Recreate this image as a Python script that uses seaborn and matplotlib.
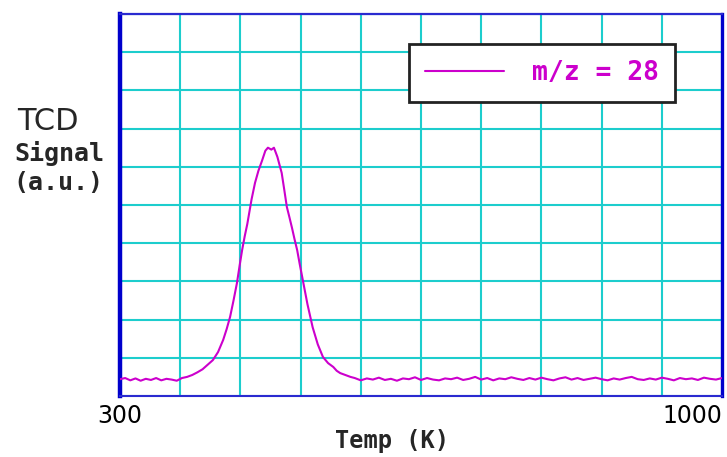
import matplotlib
matplotlib.use("Agg")
import matplotlib.pyplot as plt
import seaborn as sns
import pandas as pd
from matplotlib.lines import Line2D

# ---- data -------------------------------------------------------------
temp_K = [
    300, 306, 312, 318, 324, 330, 336, 342, 348, 354, 360, 366, 372,
    378, 384, 390, 396, 402, 408, 414, 420, 424, 428, 432, 436, 439, 442,
    445, 448, 453, 457, 461, 465, 469, 472, 476, 479, 483,
    488, 491, 494, 497, 500, 503, 506, 509, 512, 518, 524, 530,
    536, 542, 548, 552, 556, 562, 568, 573,
    580, 587, 594, 601, 608, 615, 622, 629, 636, 643, 650, 657, 664, 671,
    678, 685, 692, 699, 706, 713, 720, 727, 734, 741, 748, 755, 762, 769,
    776, 783, 790, 797, 804, 811, 818, 825, 832, 839, 846, 853, 860, 867,
    874, 881, 888, 895, 902, 909, 916, 923, 930, 937, 944, 951, 958, 965,
    972, 979, 986, 993, 1000,
]
signal_mz28 = [
    0.44, 0.47, 0.41, 0.46, 0.40, 0.45, 0.42, 0.47, 0.41, 0.45, 0.43, 0.40, 0.47,
    0.50, 0.55, 0.62, 0.70, 0.82, 0.94, 1.15, 1.47, 1.75, 2.07, 2.50, 2.96, 3.40, 3.82,
    4.18, 4.50, 5.15, 5.58, 5.90, 6.15, 6.42, 6.50, 6.45, 6.50, 6.26,
    5.84, 5.40, 4.95, 4.68, 4.40, 4.10, 3.82, 3.45, 3.10, 2.40, 1.80, 1.35,
    1.02, 0.86, 0.76, 0.66, 0.60, 0.55, 0.50, 0.47,
    0.41, 0.46, 0.43, 0.48, 0.42, 0.45, 0.40, 0.46, 0.44, 0.49, 0.42, 0.47, 0.43, 0.41,
    0.46, 0.44, 0.48, 0.42, 0.45, 0.50, 0.43, 0.47, 0.41, 0.46, 0.44, 0.49, 0.45, 0.42,
    0.47, 0.43, 0.48, 0.44, 0.41, 0.46, 0.49, 0.43, 0.47, 0.42, 0.45, 0.48, 0.44, 0.41,
    0.46, 0.43, 0.47, 0.50, 0.44, 0.42, 0.46, 0.43, 0.48, 0.45, 0.41, 0.47, 0.44, 0.46,
    0.42, 0.48, 0.45, 0.43, 0.47,
]
grid_temps = [300, 370, 440, 510, 580, 650, 720, 790, 860, 930, 1000]
grid_labels = ["300", "", "", "", "", "", "", "", "", "", "1000"]
grid_signal = [0, 1, 2, 3, 4, 5, 6, 7, 8, 9, 10]
series_label = "m/z = 28"

df = pd.DataFrame({"Temp (K)": temp_K, "Signal": signal_mz28})

# ---- style ------------------------------------------------------------
sns.set_style("white")
plt.rcParams["font.family"] = ["DejaVu Sans"]

MAGENTA = "#CC00CC"
CYAN = "#1DCDCD"
BLUE = "#0000CC"

W, H = 727, 457
fig = plt.figure(figsize=(W / 100, H / 100), dpi=100)
ax = fig.add_axes([120 / W, 61 / H, 602 / W, 382 / H])

sns.lineplot(data=df, x="Temp (K)", y="Signal", ax=ax, color=MAGENTA,
             linewidth=1.5, legend=False, zorder=3)

ax.set_xlim(300, 1000)
ax.set_ylim(0, 10)
ax.set_xticks(grid_temps)
ax.set_xticklabels(grid_labels)
ax.set_yticks(grid_signal)
ax.set_yticklabels([])
ax.grid(True, color=CYAN, linewidth=1.5)
ax.tick_params(axis="both", length=0, labelsize=17, pad=6, colors="black")
labels = ax.get_xticklabels()
labels[-1].set_horizontalalignment("right")
labels[0].set_horizontalalignment("center")
ax.set_xlabel("")
ax.set_ylabel("")

ax.spines["left"].set_color(BLUE)
ax.spines["left"].set_linewidth(3.2)
ax.spines["right"].set_color(BLUE)
ax.spines["right"].set_linewidth(2.4)
ax.spines["top"].set_color("#2A2AD0")
ax.spines["top"].set_linewidth(1.6)
ax.spines["bottom"].set_color("#2A2AD0")
ax.spines["bottom"].set_linewidth(1.5)

# legend box
mono_bold = {"family": "DejaVu Sans Mono", "weight": "bold", "size": 19}
handle = Line2D([0], [0], color=MAGENTA, linewidth=1.5)
leg = ax.legend([handle], [series_label], loc="upper left",
                bbox_to_anchor=(409 / W, 1 - 44 / H), bbox_transform=fig.transFigure,
                prop=mono_bold, handlelength=3.0, handletextpad=1.05,
                borderpad=0.6, borderaxespad=0, fancybox=False, framealpha=1,
                edgecolor="#222222", facecolor="white", labelcolor=MAGENTA)
leg.get_frame().set_linewidth(2.0)

# axis titles
fig.text(48 / W, 1 - 121 / H, "TCD", ha="center", va="center",
         fontsize=22, family="DejaVu Sans")
fig.text(59 / W, 1 - 153 / H, "Signal", ha="center", va="center",
         fontsize=18, family="DejaVu Sans Mono", weight="bold")
fig.text(58 / W, 1 - 183 / H, "(a.u.)", ha="center", va="center",
         fontsize=18, family="DejaVu Sans Mono", weight="bold")
fig.text(392 / W, 1 - 441 / H, "Temp (K)", ha="center", va="center",
         fontsize=17, family="DejaVu Sans Mono", weight="bold")

fig.savefig("out.png", dpi=100, facecolor="white")
